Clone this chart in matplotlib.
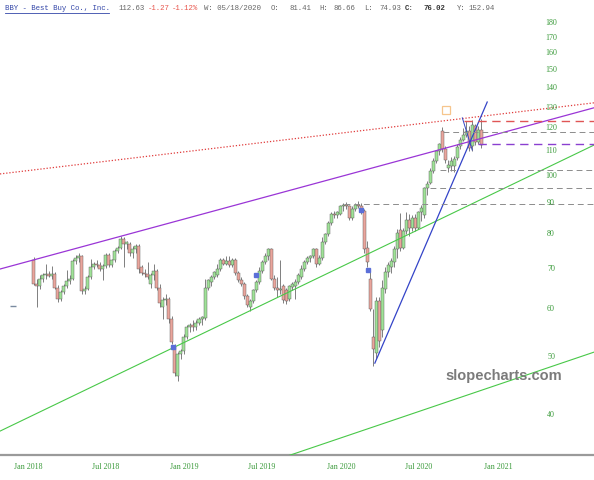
import matplotlib
matplotlib.use("Agg")
import matplotlib.pyplot as plt
import matplotlib.dates as mdates
from matplotlib.lines import Line2D
import pandas as pd

# weekly candles, BBY, starting week of 2018-01-15
opens = [72.4, 66.2, 65.5, 67.5, 68.3, 68.8, 68.2, 68.8, 65.2, 62.5, 64.0, 65.5, 66.8, 67.5, 72.3, 73.0, 73.6, 64.3, 64.8, 68.0,
         70.5, 71.5, 71.0, 70.0, 70.8, 74.0, 71.0, 72.5, 75.0, 76.0, 78.5, 77.0, 77.0, 74.5, 75.5, 76.5, 70.5, 69.0, 68.8, 66.0,
         68.5, 69.5, 65.0, 60.5, 62.2, 62.5, 57.8, 52.0, 46.5, 50.5, 51.2, 54.0, 56.0, 56.5, 56.0, 57.0, 57.8, 58.0, 65.0, 66.5,
         68.0, 68.5, 70.0, 72.5, 71.5, 72.2, 71.0, 72.5, 69.0, 67.0, 66.0, 63.2, 60.5, 62.0, 64.5, 66.5, 69.5, 72.0, 73.5, 75.5,
         67.5, 65.2, 64.5, 65.5, 64.5, 62.5, 65.3, 65.5, 66.5, 68.0, 70.0, 72.0, 73.0, 73.5, 75.5, 71.5, 73.0, 77.5, 80.0, 83.5,
         86.5, 86.0, 86.5, 89.0, 89.5, 89.0, 85.0, 88.0, 89.5, 89.0, 87.5, 76.0, 67.5, 54.0, 50.8, 62.0, 55.5, 64.8, 69.3, 70.5,
         72.0, 75.5, 81.41, 76.0, 81.0, 84.5, 82.0, 85.0, 82.0, 87.0, 86.0, 95.5, 97.5, 102.0, 106.0, 110.0, 119.0, 111.0, 103.0, 104.0,
         104.0, 107.0, 112.0, 115.0, 117.0, 119.0, 112.0, 121.0, 114.0, 119.5]
highs = [73.2, 67.5, 68.5, 69.0, 71.5, 69.5, 70.8, 69.2, 65.8, 64.5, 66.0, 69.8, 68.5, 72.8, 73.8, 74.5, 74.0, 65.5, 68.3, 72.7,
         72.0, 72.5, 71.8, 71.5, 74.5, 74.5, 72.8, 75.5, 76.5, 79.5, 79.0, 78.0, 77.5, 76.5, 77.0, 77.0, 71.0, 70.0, 72.0, 69.0,
         71.5, 70.0, 66.0, 63.0, 63.5, 63.0, 58.5, 52.5, 51.0, 51.5, 54.5, 56.5, 57.0, 57.5, 57.5, 58.2, 58.5, 67.5, 67.5, 68.5,
         69.5, 71.5, 73.0, 73.0, 73.5, 73.5, 73.0, 73.0, 69.5, 68.0, 66.5, 63.5, 62.5, 64.8, 67.0, 70.5, 72.5, 74.5, 76.0, 76.0,
         68.5, 68.0, 72.5, 66.0, 65.0, 65.8, 66.5, 67.3, 69.0, 71.0, 72.5, 73.5, 74.0, 76.0, 76.0, 74.0, 79.0, 80.5, 84.0, 87.0,
         87.5, 87.5, 89.5, 90.0, 90.5, 89.5, 89.0, 90.0, 91.0, 90.0, 88.0, 78.0, 70.0, 60.0, 63.0, 63.0, 67.0, 70.5, 72.0, 73.0,
         76.5, 81.5, 86.66, 82.0, 87.0, 86.5, 86.0, 86.5, 87.5, 89.5, 96.0, 98.0, 103.0, 107.0, 110.5, 113.5, 120.5, 112.0, 106.5, 107.5,
         108.0, 113.0, 116.0, 120.0, 123.5, 121.0, 124.0, 122.0, 121.0, 124.5]
lows = [65.8, 60.5, 64.8, 66.5, 67.5, 67.8, 67.5, 64.8, 61.8, 62.0, 63.5, 65.0, 66.0, 67.0, 71.5, 72.0, 63.5, 63.6, 64.5, 67.5,
        70.0, 70.5, 69.5, 67.0, 70.2, 70.5, 70.6, 72.0, 74.5, 75.5, 70.5, 75.5, 73.5, 73.0, 74.5, 69.0, 68.5, 68.0, 67.5, 65.0,
        67.0, 64.5, 60.5, 57.8, 61.0, 57.0, 52.5, 46.5, 45.5, 49.5, 50.5, 53.5, 55.0, 55.2, 55.5, 56.5, 56.5, 57.5, 64.5, 65.5,
        67.5, 68.0, 69.5, 71.0, 71.0, 70.5, 70.5, 68.5, 66.5, 65.5, 62.5, 60.5, 59.5, 61.5, 64.0, 66.0, 69.0, 71.5, 72.5, 67.0,
        64.5, 63.0, 63.5, 61.5, 61.2, 62.0, 64.5, 62.5, 66.0, 67.5, 69.5, 71.5, 72.0, 73.0, 70.5, 71.0, 72.5, 77.0, 79.5, 83.0,
        85.0, 85.0, 86.0, 87.5, 88.0, 84.5, 84.5, 87.5, 88.5, 86.5, 74.5, 70.5, 59.5, 48.3, 49.5, 52.0, 54.0, 63.8, 68.0, 69.0,
        70.5, 73.0, 74.93, 75.5, 80.0, 79.5, 81.0, 81.0, 81.5, 84.0, 85.0, 93.0, 97.0, 101.0, 105.0, 108.5, 109.5, 105.0, 101.5, 102.0,
        101.5, 106.5, 111.0, 114.5, 116.0, 110.0, 110.0, 112.5, 113.0, 111.5]
closes = [66.2, 65.5, 67.5, 68.5, 68.8, 68.2, 68.8, 65.2, 62.5, 64.0, 65.5, 66.8, 67.5, 72.3, 73.0, 73.6, 64.3, 64.8, 68.0, 70.5,
          71.5, 71.0, 70.0, 70.8, 74.0, 71.0, 72.5, 75.0, 76.0, 78.5, 77.0, 77.5, 74.5, 75.5, 76.5, 70.0, 69.0, 68.8, 68.0, 68.5,
          69.5, 65.0, 61.5, 62.2, 62.5, 57.8, 53.0, 47.0, 50.5, 51.2, 54.0, 56.0, 56.5, 56.0, 57.0, 57.8, 58.3, 65.0, 67.0, 68.0,
          69.2, 70.0, 72.5, 71.5, 72.2, 71.0, 72.5, 69.0, 67.0, 66.0, 63.2, 61.0, 62.0, 64.5, 66.5, 69.5, 72.0, 73.5, 75.5, 67.5,
          65.2, 64.5, 64.8, 62.2, 62.0, 65.5, 66.0, 66.5, 68.3, 70.0, 72.0, 73.0, 73.5, 75.5, 71.5, 73.0, 77.5, 80.0, 83.5, 86.5,
          86.0, 87.0, 89.0, 89.5, 89.0, 85.0, 88.0, 89.5, 89.0, 87.5, 75.5, 72.0, 60.0, 51.5, 62.0, 53.2, 65.2, 69.2, 71.2, 72.2,
          75.5, 80.5, 76.02, 81.0, 84.5, 82.0, 85.0, 82.0, 87.0, 88.5, 95.5, 97.0, 102.0, 106.0, 110.0, 113.0, 111.0, 106.5, 104.5, 106.0,
          106.8, 111.8, 115.0, 117.0, 119.0, 111.5, 121.5, 114.0, 119.5, 112.63]

# drawn lines (two anchors each: dates, prices)
purple_dates, purple_prices = ["2017-10-28", "2021-08-13"], [70.0, 129.9]
red_dot_dates, red_dot_prices = ["2017-10-28", "2021-08-13"], [100.8, 132.4]
green_up_dates, green_up_prices = ["2017-10-28", "2021-08-13"], [37.6, 112.6]
green_lo_dates, green_lo_prices = ["2019-02-06", "2021-08-13"], [30.5, 50.9]
blue_dates, blue_prices = ["2020-03-20", "2020-12-07"], [48.8, 132.8]
blue_x_dates, blue_x_prices = ["2020-10-10", "2020-11-02"], [125.0, 110.5]

level_prices = [123.5, 118.6, 113.1, 102.3, 95.5, 89.8]
level_start = ["2020-10-15", "2020-08-25", "2020-11-16", "2020-08-20", "2020-07-27", "2020-01-07"]
level_colors = ["#e05555", "#8c8c8c", "#8a3fd0", "#8c8c8c", "#8c8c8c", "#8c8c8c"]

div_dates = ["2018-12-05", "2019-06-17", "2020-02-17", "2020-03-04"]
div_prices = [51.9, 68.5, 87.8, 69.8]

y_ticks = [40, 50, 60, 70, 80, 90, 100, 110, 120, 130, 140, 150, 160, 170, 180]
x_tick_dates = ["2018-01-01", "2018-07-01", "2019-01-01", "2019-07-01", "2020-01-01", "2020-07-01", "2021-01-01"]
x_tick_labels = ["Jan 2018", "Jul 2018", "Jan 2019", "Jul 2019", "Jan 2020", "Jul 2020", "Jan 2021"]

W, H = 594, 480
fig = plt.figure(figsize=(W / 100, H / 100), dpi=100)
ax = fig.add_axes([0, 25 / H, 1, 445 / H])
ax.set_yscale("log")

dates = pd.date_range("2018-01-15", periods=len(closes), freq="7D")
xs = mdates.date2num(dates)
green_body, red_body, edge = "#9fe297", "#eaa59c", "#555555"
for x, o, h, l, c in zip(xs, opens, highs, lows, closes):
    ax.vlines(x, l, h, color="#6a6a6a", lw=0.6, zorder=2)
    ax.bar(x, abs(c - o) if c != o else 0.2, bottom=min(o, c), width=7.0,
           color=green_body if c >= o else red_body, edgecolor=edge, linewidth=0.3, zorder=3)

d = lambda v: mdates.date2num(pd.to_datetime(v))
ax.plot(d(purple_dates), purple_prices, color="#9a35d6", lw=0.9, zorder=4)
ax.plot(d(red_dot_dates), red_dot_prices, color="#e03a3a", lw=0.9, ls=(0, (1, 1.5)), zorder=4)
ax.plot(d(green_up_dates), green_up_prices, color="#48c848", lw=0.8, zorder=4)
ax.plot(d(green_lo_dates), green_lo_prices, color="#48c848", lw=0.8, zorder=4)
ax.plot(d(blue_dates), blue_prices, color="#3444c8", lw=0.9, zorder=4)
ax.plot(d(blue_x_dates), blue_x_prices, color="#3444c8", lw=0.7, zorder=4)

end = d("2021-08-13")
for p, s, col in zip(level_prices, level_start, level_colors):
    lw = 1.0 if col != "#8c8c8c" else 0.7
    ax.plot([d(s), end], [p, p], color=col, lw=lw, ls=(0, (6, 4)), zorder=4)

ax.plot(d(div_dates), div_prices, ls="none", marker="s", ms=2.6, color="#5b6fd8", zorder=5)
ax.plot(d(["2017-11-28"]), [60.8], ls="none", marker="_", ms=4, mew=1, color="#7a8aa0", zorder=5)
ax.plot(d(["2020-09-01"]), [128.8], ls="none", marker="s", ms=6, mfc="none", mec="#f6c58c", mew=0.9, zorder=5)

ax.set_xlim(d("2017-10-28"), end)
ax.set_ylim(34.31, 189.0)
for s in ["top", "left", "right"]:
    ax.spines[s].set_visible(False)
ax.spines["bottom"].set_color("#9a9a9a")
ax.spines["bottom"].set_linewidth(1.6)
ax.set_yticks([])
ax.yaxis.set_minor_locator(matplotlib.ticker.NullLocator())

tick_font = dict(family="Liberation Serif", fontsize=5.8, color="#3a9a3a")
ax.set_xticks(d(x_tick_dates))
ax.set_xticklabels(x_tick_labels, **tick_font)
ax.tick_params(axis="x", length=0, pad=6)
for v in y_ticks:
    ax.text(551 / W, v, str(v), transform=ax.get_yaxis_transform(), ha="center", va="center", zorder=6, **tick_font)

fig.text(504 / W, 1 - 376 / H, "slopecharts.com", ha="center", va="center",
         family="Liberation Sans", fontweight="bold", fontsize=10.5, color="#7b7b7b")

# header line
mono = dict(family="Liberation Mono", fontsize=5.3, va="center")
hy = 1 - 8 / H
pieces = [(5, "BBY - Best Buy Co., Inc.", "#3346a8", "normal"),
          (118, "112.63", "#666666", "normal"),
          (148, "-1.27", "#e8554c", "normal"),
          (172, "-1.12%", "#e8554c", "normal"),
          (204, "W: 05/18/2020", "#666666", "normal"),
          (271, "O:", "#666666", "normal"),
          (289, "81.41", "#666666", "normal"),
          (319, "H:", "#666666", "normal"),
          (334, "86.66", "#666666", "normal"),
          (364, "L:", "#666666", "normal"),
          (379, "74.93", "#666666", "normal"),
          (405, "C:", "#333333", "bold"),
          (423, "76.02", "#333333", "bold"),
          (457, "Y:", "#666666", "normal"),
          (468, "152.94", "#666666", "normal")]
for px, s, col, wt in pieces:
    fig.text(px / W, hy, s, color=col, fontweight=wt, **mono)
fig.add_artist(Line2D([5 / W, 109 / W], [1 - 13 / H] * 2, color="#3346a8", lw=0.6))

fig.savefig("out.png", dpi=100)
